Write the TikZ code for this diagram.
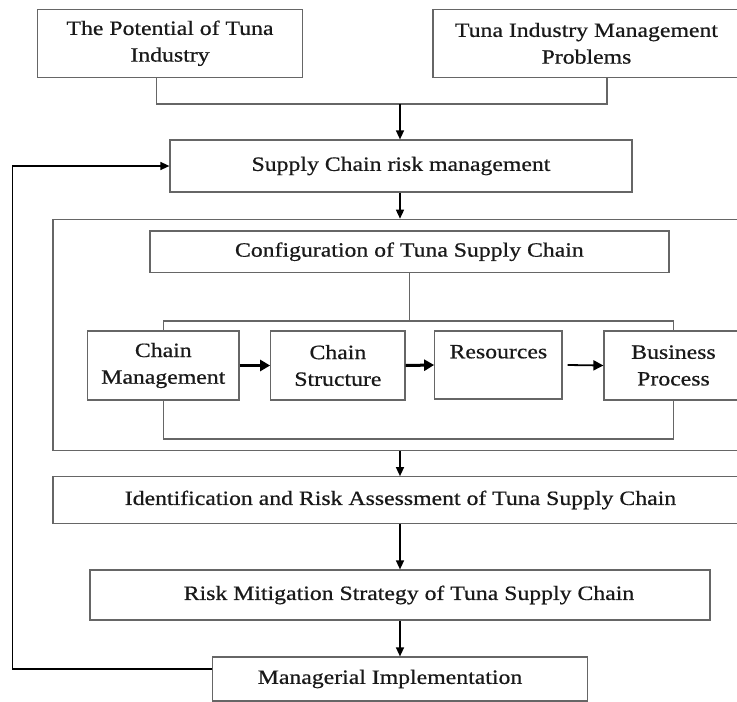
\documentclass[tikz,border=0pt]{standalone}
\usepackage{fontspec}
\setmainfont{Liberation Serif}[FakeStretch=1.17,FakeBold=0.6]
\usetikzlibrary{arrows.meta}
\begin{document}
\begin{tikzpicture}[x=1pt,y=-1pt,
  box/.style={draw=black!60, line width=1.2pt, fill=white, inner sep=0pt, align=center,
    text=black!90, font=\fontsize{20.3}{26.7}\selectfont},
  arr/.style={draw=black, line width=1.4pt, -{Triangle[length=9pt,width=8pt]}},
  thickarr/.style={draw=black, line width=3pt, -{Triangle[length=10pt,width=11pt]}},
  link/.style={draw=black!60, line width=1.2pt}]
\useasboundingbox (0,0) rectangle (737,702);
\clip (0,0) rectangle (737,702);
% top boxes
\node[box, minimum width=264.4pt, minimum height=67.7pt] (pot) at (170,43.3) {The Potential of Tuna\\Industry};
\node[box, minimum width=307pt, minimum height=67.7pt] (prob) at (586.5,43.3) {Tuna Industry Management\\Problems};
\node[box, minimum width=462pt, minimum height=52pt] (scrm) at (401,166) {Supply Chain risk management};
% outer frame
\node[box, minimum width=695pt, minimum height=231.4pt] (outer) at (400.5,335) {};
\node[box, minimum width=519pt, minimum height=41.3pt] (config) at (409.4,251.7) {Configuration of Tuna Supply Chain};
\node[box, minimum width=151.4pt, minimum height=69pt] (cm) at (163.3,365.5) {Chain\\Management};
\node[box, minimum width=134.3pt, minimum height=69pt] (cs) at (337.9,365.5) {Chain\\Structure};
\node[box, minimum width=127.3pt, minimum height=68pt] (res) at (498.4,365) {Resources\\\mbox{}};
\node[box, minimum width=139pt, minimum height=69pt] (bp) at (673.5,365.5) {Business\\Process};
% lower boxes
\node[box, minimum width=695pt, minimum height=46.5pt] (ident) at (400.5,500) {Identification and Risk Assessment of Tuna Supply Chain};
\node[box, minimum width=620pt, minimum height=50pt] (risk) at (400,595) {\hspace*{18pt}Risk Mitigation Strategy of Tuna Supply Chain};
\node[box, minimum width=375pt, minimum height=44pt] (man) at (400,679) {Managerial Implementation\hspace*{20pt}};
% connectors
\coordinate (pL) at (156.5,104);
\coordinate (pR) at (607,104);
\coordinate (j1) at (400,104);
\draw[link] (pot.south -| pL) -- (pL) -- (pR) -- (prob.south -| pR);
\draw[arr] (j1) -- (scrm.north -| j1);
\draw[arr] (scrm.south -| j1) -- (outer.north -| j1);
\coordinate (t) at (409.4,321);
\coordinate (bt) at (0,439);
\draw[link] (config.south) -- (t);
\draw[link] (cm.north) -- (cm.north |- t) -- (bp.north |- t) -- (bp.north);
\draw[link] (cm.south) -- (cm.south |- bt) -- (bp.south |- bt) -- (bp.south);
\draw[thickarr] (cm.east) -- (cs.west);
\draw[thickarr] (cs.east) -- (res.west);
\draw[arr, line width=1.8pt, -{Triangle[length=10pt,width=10pt]}] ([xshift=5pt]res.east) -- (bp.west);
\draw[arr] (outer.south -| j1) -- (ident.north -| j1);
\draw[arr] (ident.south -| j1) -- (risk.north -| j1);
\draw[arr] (risk.south -| j1) -- (man.north -| j1);
\coordinate (fb) at (12.7,0);
\draw[arr] ([yshift=10pt]man.west) -- ([yshift=10pt]man.west -| fb) -- (scrm.west -| fb) -- (scrm.west);
\end{tikzpicture}
\end{document}
